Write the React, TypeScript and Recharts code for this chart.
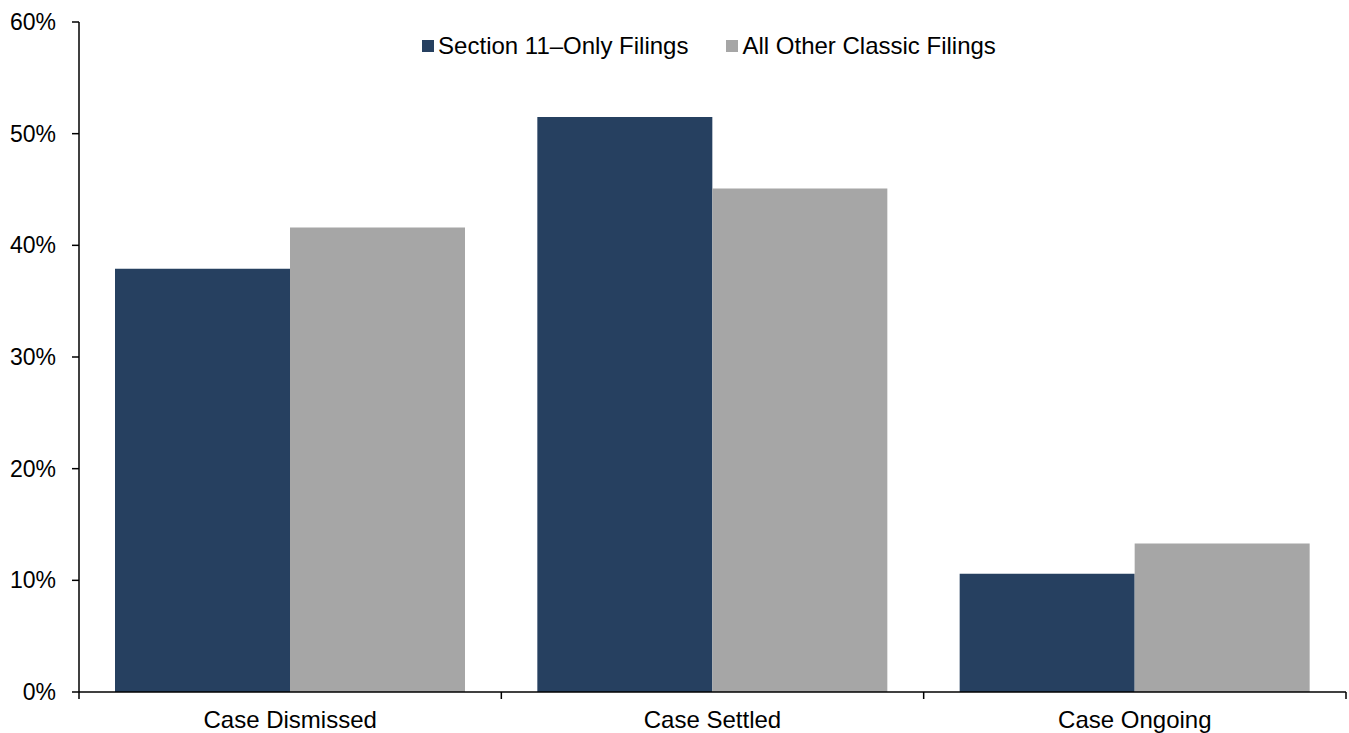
import { Bar, BarChart, Legend, XAxis, YAxis } from "recharts";

const categories = ["Case Dismissed", "Case Settled", "Case Ongoing"];
const section11Only = [37.9, 51.5, 10.6];
const allOtherClassic = [41.6, 45.1, 13.3];
const yTicks = [0, 10, 20, 30, 40, 50, 60];

const NAVY = "#264060";
const GRAY = "#a6a6a6";
const FONT = "'Liberation Sans', Arial, sans-serif";

const WIDTH = 1349;
const HEIGHT = 733;
const MARGIN = { top: 22, right: 3, bottom: 0, left: 0 };
const Y_AXIS_WIDTH = 79;
const X_TICK_SIZE = 7;
const X_TICK_MARGIN = 12;

const data = categories.map((name, i) => ({
  name,
  section11: section11Only[i],
  other: allOtherClassic[i],
}));

const series = [
  { key: "section11", label: "Section 11\u2013Only Filings", color: NAVY },
  { key: "other", label: "All Other Classic Filings", color: GRAY },
];

// label in the middle of the band, tick marks on the band edges
function CategoryTick(props: any) {
  const { x, y, payload, index, visibleTicksCount } = props;
  const fallback = (WIDTH - MARGIN.left - MARGIN.right - Y_AXIS_WIDTH) / categories.length / 2;
  const half = payload && payload.offset ? payload.offset : fallback;
  const axisY = y - X_TICK_SIZE - X_TICK_MARGIN;
  const last = index === (visibleTicksCount ?? categories.length) - 1;
  return (
    <g>
      <line
        x1={x - half}
        x2={x - half}
        y1={axisY}
        y2={axisY + X_TICK_SIZE}
        stroke="#000"
        strokeWidth={1.5}
      />
      {last && (
        <line
          x1={x + half}
          x2={x + half}
          y1={axisY}
          y2={axisY + X_TICK_SIZE}
          stroke="#000"
          strokeWidth={1.5}
        />
      )}
      <text
        x={x}
        y={y}
        dy="0.71em"
        textAnchor="middle"
        fill="#000"
        fontSize={24}
        fontFamily={FONT}
      >
        {payload.value}
      </text>
    </g>
  );
}

function LegendRow() {
  return (
    <div
      style={{
        display: "flex",
        justifyContent: "center",
        gap: 38,
        fontFamily: FONT,
        fontSize: 24,
        color: "#000",
      }}
    >
      {series.map((s) => (
        <div key={s.key} style={{ display: "flex", alignItems: "center" }}>
          <span
            style={{
              width: 12,
              height: 12,
              background: s.color,
              marginRight: 4,
              display: "inline-block",
            }}
          />
          <span>{s.label}</span>
        </div>
      ))}
    </div>
  );
}

export default function App() {
  return (
    <div style={{ position: "absolute", left: 0, top: 0, width: WIDTH, height: HEIGHT, background: "#fff" }}>
      <BarChart
        width={WIDTH}
        height={HEIGHT}
        data={data}
        margin={MARGIN}
        barCategoryGap={36}
        barGap={0}
      >
        <XAxis
          dataKey="name"
          height={41}
          axisLine={{ stroke: "#000", strokeWidth: 1.5 }}
          tickLine={false}
          tickSize={X_TICK_SIZE}
          tickMargin={X_TICK_MARGIN}
          interval={0}
          tick={CategoryTick}
        />
        <YAxis
          width={Y_AXIS_WIDTH}
          domain={[0, 60]}
          ticks={yTicks}
          tickFormatter={(v) => `${v}%`}
          tickSize={7}
          tickMargin={16}
          axisLine={{ stroke: "#000", strokeWidth: 1.5 }}
          tickLine={{ stroke: "#000", strokeWidth: 1.5 }}
          tick={{ fill: "#000", fontSize: 23, fontFamily: FONT }}
        />
        <Legend
          layout="horizontal"
          verticalAlign="middle"
          align="center"
          content={() => <LegendRow />}
          wrapperStyle={{ top: 32, left: 79, width: 1260 }}
        />
        {series.map((s) => (
          <Bar key={s.key} dataKey={s.key} fill={s.color} isAnimationActive={false} />
        ))}
      </BarChart>
    </div>
  );
}
